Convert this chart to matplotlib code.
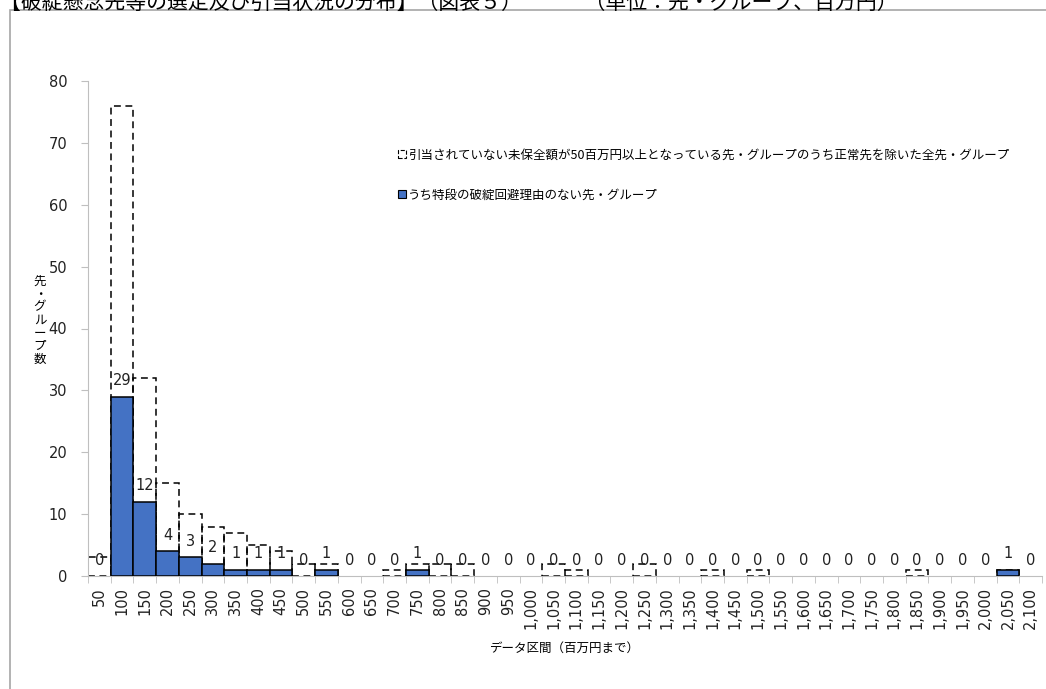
import matplotlib.pyplot as plt
from matplotlib.patches import Rectangle, Patch

plt.rcParams['font.family'] = ['Noto Sans CJK JP', 'DejaVu Sans']

# bins (upper bound, million yen)
bins = [50, 100, 150, 200, 250, 300, 350, 400, 450, 500, 550, 600, 650, 700,
        750, 800, 850, 900, 950, 1000, 1050, 1100, 1150, 1200, 1250, 1300,
        1350, 1400, 1450, 1500, 1550, 1600, 1650, 1700, 1750, 1800, 1850,
        1900, 1950, 2000, 2050, 2100]

# all groups (dashed outline)
total = [3, 76, 32, 15, 10, 8, 7, 5, 4, 2, 2, 0, 0, 1,
         2, 2, 2, 0, 0, 0, 2, 1, 0, 0, 2, 0,
         0, 1, 0, 1, 0, 0, 0, 0, 0, 0, 1,
         0, 0, 0, 1, 0]

# groups without a special reason (blue)
subset = [0, 29, 12, 4, 3, 2, 1, 1, 1, 0, 1, 0, 0, 0,
          1, 0, 0, 0, 0, 0, 0, 0, 0, 0, 0, 0,
          0, 0, 0, 0, 0, 0, 0, 0, 0, 0, 0,
          0, 0, 0, 1, 0]

label_total = '引当されていない未保全額が50百万円以上となっている先・グループのうち正常先を除いた全先・グループ'
label_subset = 'うち特段の破綻回避理由のない先・グループ'

W, H = 1046, 689
fig = plt.figure(figsize=(W / 100, H / 100), dpi=100)

# outer chart frame, runs off the right and bottom edges
fig.patches.append(Rectangle((10 / W, -0.1), 1.2, 1 - 10 / H + 0.1,
                             transform=fig.transFigure, fill=False,
                             edgecolor='#A6A6A6', linewidth=1.2))

fig.text(0.0, 1 - 3 / H, '【破綻懸念先等の選定及び引当状況の分布】（図表５）　　　（単位：先・グループ、百万円）',
         fontsize=15, va='center', ha='left')

ax = fig.add_axes([88 / W, 1 - 576 / H, 954 / W, 495 / H])

xs = list(range(len(bins)))
tx = [x for x, v in zip(xs, total) if v > 0]
tv = [v for v in total if v > 0]
sx = [x for x, v in zip(xs, subset) if v > 0]
sv = [v for v in subset if v > 0]

ax.bar(tx, tv, width=1.0, fill=False, edgecolor='black', linestyle=(0, (4.5, 3)),
       linewidth=1.1, zorder=2)
ax.bar(sx, sv, width=1.0, color='#4472C4', edgecolor='black', linewidth=1.1,
       zorder=3)

for x, v in zip(xs, subset):
    ax.annotate(str(v), (x, v), xytext=(0, 11.5), textcoords='offset points',
                ha='center', va='center', fontsize=10.5, color='#222222',
                family='DejaVu Sans', zorder=4)

ax.set_xlim(-0.5, len(bins) - 0.5)
ax.set_ylim(0, 80)
ax.set_yticks(range(0, 81, 10))
ax.set_xticks(xs)
ax.set_xticklabels([f'{b:,}' for b in bins], rotation=90, family='DejaVu Sans',
                   fontsize=10.5)
ax.set_xticks([x - 0.5 for x in range(len(bins) + 1)], minor=True)
ax.tick_params(axis='x', which='major', length=0, pad=8, colors='#222222')
ax.tick_params(axis='x', which='minor', length=5, color='#BFBFBF')
ax.tick_params(axis='y', length=5, color='#BFBFBF', labelcolor='#222222',
               labelsize=10.5, pad=10)
for lab in ax.get_yticklabels():
    lab.set_family('DejaVu Sans')

for s in ['top', 'right']:
    ax.spines[s].set_visible(False)
for s in ['left', 'bottom']:
    ax.spines[s].set_color('#BFBFBF')

ax.set_xlabel('データ区間（百万円まで）', fontsize=9, labelpad=9)

fig.text(40 / W, 1 - 320 / H, '\n'.join('先・グループ数'), fontsize=9,
         ha='center', va='center', linespacing=1.0)

handles = [Patch(facecolor='white', edgecolor='black', linestyle='--', linewidth=0.8),
           Patch(facecolor='#4472C4', edgecolor='black', linewidth=0.8)]
ax.legend(handles, [label_total, label_subset], loc='upper left',
          bbox_to_anchor=(392 / W, 1 - 142 / H), bbox_transform=fig.transFigure,
          frameon=False, fontsize=9, handlelength=0.6, handleheight=0.6,
          handletextpad=0.2, labelspacing=2.2, borderpad=0)

fig.savefig('out.png', dpi=100)
